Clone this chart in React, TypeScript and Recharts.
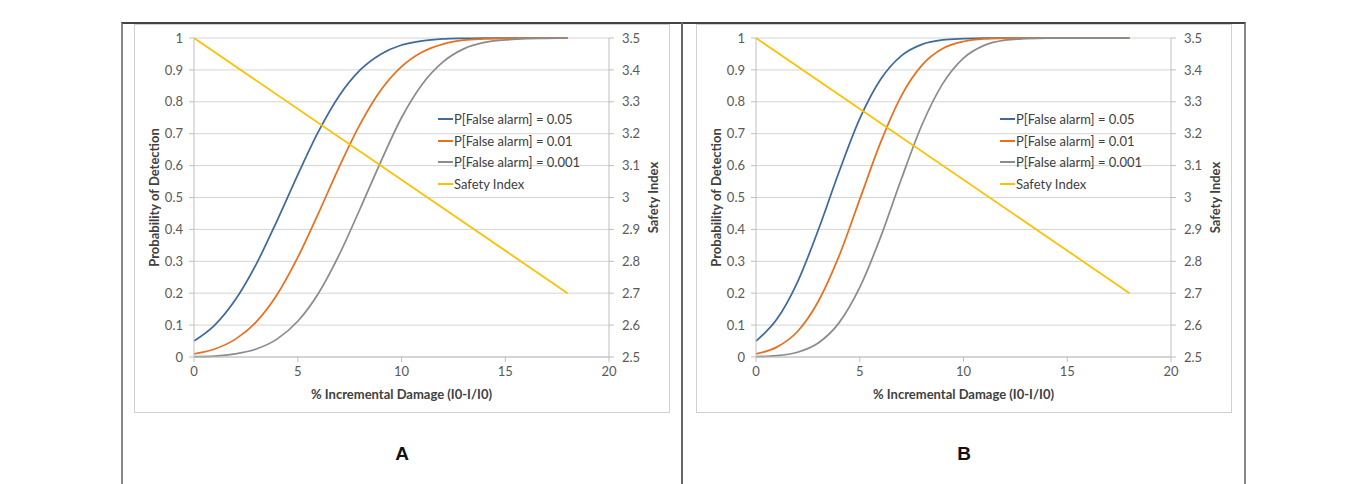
import React from 'react';
import { LineChart, Line, XAxis, YAxis, CartesianGrid } from 'recharts';

const damage = [0, 1, 2, 3, 4, 5, 6, 7, 8, 9, 10, 11, 12, 13, 14, 15, 16, 17, 18];

// panel A
const a005 = [0.05, 0.1, 0.18, 0.291, 0.427, 0.571, 0.707, 0.819, 0.899, 0.949, 0.978, 0.991, 0.997, 0.999, 1, 1, 1, 1, 1];
const a001 = [0.01, 0.025, 0.056, 0.11, 0.195, 0.312, 0.451, 0.596, 0.729, 0.836, 0.91, 0.956, 0.981, 0.993, 0.997, 0.999, 1, 1, 1];
const a0001 = [0.001, 0.003, 0.01, 0.025, 0.056, 0.112, 0.2, 0.321, 0.464, 0.612, 0.75, 0.855, 0.925, 0.966, 0.986, 0.994, 0.998, 0.999, 1];

// panel B
const b005 = [0.05, 0.118, 0.235, 0.398, 0.58, 0.747, 0.87, 0.944, 0.98, 0.994, 0.998, 1, 1, 1, 1, 1, 1, 1, 1];
const b001 = [0.01, 0.031, 0.08, 0.174, 0.316, 0.494, 0.672, 0.818, 0.915, 0.967, 0.989, 0.997, 0.999, 1, 1, 1, 1, 1, 1];
const b0001 = [0.001, 0.004, 0.015, 0.044, 0.107, 0.218, 0.375, 0.557, 0.728, 0.857, 0.937, 0.977, 0.993, 0.998, 1, 1, 1, 1, 1];

// safety index, straight line between the two ends
const safetyX = [0, 18];
const safetyIndex = [3.5, 2.7];

const xTicks = [0, 5, 10, 15, 20];
const probTicks = [0, 0.1, 0.2, 0.3, 0.4, 0.5, 0.6, 0.7, 0.8, 0.9, 1];
const safetyTicks = [2.5, 2.6, 2.7, 2.8, 2.9, 3, 3.1, 3.2, 3.3, 3.4, 3.5];

const seriesNames = ['P[False alarm] = 0.05', 'P[False alarm] = 0.01', 'P[False alarm] = 0.001', 'Safety Index'];
const colors = ['#3F6A9C', '#E8711F', '#8C8C8C', '#FFC000'];

const FONT = 'Lato, "Open Sans", sans-serif';

function buildRows(p1: number[], p2: number[], p3: number[]) {
  return damage.map((x, i) => {
    const k = safetyX.indexOf(x);
    return { x, p1: p1[i], p2: p2[i], p3: p3[i], si: k >= 0 ? safetyIndex[k] : null };
  });
}

const tickStyle = { fontSize: 13, fill: '#595959', fontFamily: FONT };
const titleStyle = { fontSize: 13, fontWeight: 700, fill: '#404040', fontFamily: FONT };

function LegendBox() {
  return (
    <div style={{ position: 'absolute', left: 303, top: 83, fontFamily: FONT, fontSize: 13, color: '#404040' }}>
      {seriesNames.map((n, i) => (
        <div key={n} style={{ display: 'flex', alignItems: 'center', height: 21.7 }}>
          <span style={{ display: 'inline-block', width: 15, height: 2, background: colors[i], marginRight: 1 }} />
          <span>{n}</span>
        </div>
      ))}
    </div>
  );
}

function Panel({ left, letter, rows }: { left: number; letter: string; rows: any[] }) {
  return (
    <>
      <div style={{ position: 'absolute', left, top: 24, width: 534, height: 387, border: '1px solid #d0d0d0' }}>
        <LineChart width={535} height={388} data={rows} margin={{ top: 13, right: 0, bottom: 0, left: 0 }}>
          <CartesianGrid vertical={false} stroke="#d4d4d4" yAxisId="prob" />
          <XAxis
            dataKey="x"
            type="number"
            domain={[0, 20]}
            ticks={xTicks}
            height={56}
            stroke="#bfbfbf"
            tickSize={5}
            tickMargin={5}
            tick={tickStyle}
            label={{
              content: (p: any) => (
                <text x={p.viewBox.x + p.viewBox.width / 2} y={p.viewBox.y + 42} textAnchor="middle" style={titleStyle}>
                  % Incremental Damage (I0-I/I0)
                </text>
              ),
            }}
          />
          <YAxis
            yAxisId="prob"
            domain={[0, 1]}
            ticks={probTicks}
            width={59}
            stroke="#bfbfbf"
            tickSize={5}
            tickMargin={6}
            tick={tickStyle}
            label={{
              content: (p: any) => {
                const cx = p.viewBox.x + 19;
                const cy = p.viewBox.y + p.viewBox.height / 2;
                return (
                  <text x={cx} y={cy} transform={`rotate(-90 ${cx} ${cy})`} textAnchor="middle" dominantBaseline="central" style={titleStyle}>
                    Probability of Detection
                  </text>
                );
              },
            }}
          />
          <YAxis
            yAxisId="si"
            orientation="right"
            domain={[2.5, 3.5]}
            ticks={safetyTicks}
            width={61}
            stroke="#bfbfbf"
            tickSize={5}
            tickMargin={8}
            tick={tickStyle}
            label={{
              content: (p: any) => {
                const cx = p.viewBox.x + 44;
                const cy = p.viewBox.y + p.viewBox.height / 2;
                return (
                  <text x={cx} y={cy} transform={`rotate(-90 ${cx} ${cy})`} textAnchor="middle" dominantBaseline="central" style={titleStyle}>
                    Safety Index
                  </text>
                );
              },
            }}
          />
          <Line yAxisId="prob" type="monotone" dataKey="p1" stroke={colors[0]} strokeWidth={1.75} dot={false} isAnimationActive={false} />
          <Line yAxisId="prob" type="monotone" dataKey="p2" stroke={colors[1]} strokeWidth={1.75} dot={false} isAnimationActive={false} />
          <Line yAxisId="prob" type="monotone" dataKey="p3" stroke={colors[2]} strokeWidth={1.75} dot={false} isAnimationActive={false} />
          <Line yAxisId="si" type="linear" dataKey="si" stroke={colors[3]} strokeWidth={1.75} dot={false} connectNulls isAnimationActive={false} />
        </LineChart>
        <LegendBox />
      </div>
      <div style={{ position: 'absolute', left: left + 268 - 20, width: 40, top: 443, textAlign: 'center',
        fontFamily: '"Liberation Sans", Arial, sans-serif', fontWeight: 700, fontSize: 19, color: '#111' }}>
        {letter}
      </div>
    </>
  );
}

export default function App() {
  return (
    <div style={{ position: 'absolute', left: 0, top: 0, width: 1357, height: 484, background: '#fff', overflow: 'hidden' }}>
      <div style={{ position: 'absolute', left: 121, top: 22, width: 1121, height: 480, borderTop: '2px solid #444', borderLeft: '2px solid #888', borderRight: '2px solid #888' }} />
      <div style={{ position: 'absolute', left: 681, top: 22, width: 2, height: 470, background: '#666' }} />
      <Panel left={134} letter="A" rows={buildRows(a005, a001, a0001)} />
      <Panel left={696} letter="B" rows={buildRows(b005, b001, b0001)} />
    </div>
  );
}
